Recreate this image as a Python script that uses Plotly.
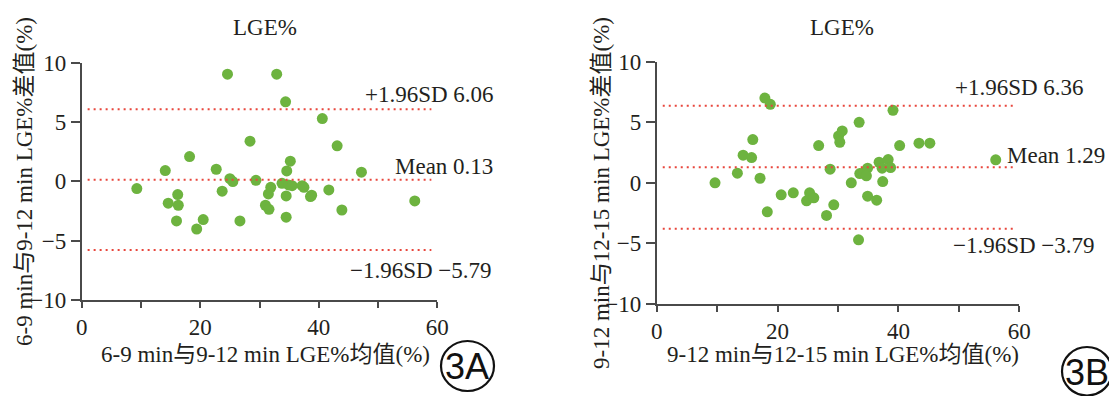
import plotly.graph_objects as go

# ---------------- data ----------------
a_mean = [9.3, 14.1, 14.6, 16.2, 16.3, 16.0, 18.2, 19.4, 20.5, 22.7, 23.7, 24.6, 25.0, 25.5,
          26.7, 28.4, 29.4, 31.0, 31.6, 31.5, 31.9, 32.9, 33.8, 34.4, 34.6, 35.2, 34.5, 34.5,
          34.9, 35.5, 37.2, 37.5, 38.6, 38.8, 40.6, 41.7, 43.1, 43.9, 47.2, 56.2]
a_diff = [-0.62, 0.9, -1.85, -1.12, -2.02, -3.34, 2.08, -4.02, -3.23, 1.01, -0.84, 9.02, 0.22, -0.03,
          -3.34, 3.37, 0.08, -2.02, -2.36, -1.07, -0.51, 9.02, -0.17, 6.69, 0.87, 1.69, -1.24, -3.03,
          -0.31, -0.37, -0.37, -0.51, -1.29, -1.18, 5.28, -0.73, 2.98, -2.42, 0.76, -1.66]
b_mean = [9.65, 13.35, 14.3, 15.7, 15.9, 17.1, 17.9, 18.8, 18.3, 20.6, 22.6, 24.8, 25.3, 26.0,
          26.8, 28.1, 28.7, 29.3, 30.1, 30.7, 30.3, 32.2, 33.5, 33.4, 33.6, 34.2, 34.9, 34.7,
          34.9, 36.4, 36.8, 37.3, 37.4, 38.3, 38.7, 39.1, 40.2, 43.4, 45.2, 56.1]
b_diff = [0.0, 0.8, 2.28, 2.09, 3.57, 0.38, 7.0, 6.48, -2.39, -0.99, -0.82, -1.48, -0.82, -1.24,
          3.08, -2.69, 1.13, -1.81, 3.87, 4.29, 3.35, 0.0, 5.0, -4.7, 0.77, 0.82, 1.21, 0.58,
          -1.1, -1.43, 1.7, 1.21, 0.11, 1.92, 1.26, 5.99, 3.08, 3.27, 3.27, 1.9]
a_lines = {"upper": 6.06, "mean": 0.13, "lower": -5.79}
b_lines = {"upper": 6.36, "mean": 1.29, "lower": -3.79}
line_x = [1, 59]
x_tickvals = [0, 10, 20, 30, 40, 50, 60]
x_ticktext = ["0", "", "20", "", "40", "", "60"]
y_tickvals = [-10, -5, 0, 5, 10]
panel_title = "LGE%"
a_xtitle = "6-9 min与9-12 min LGE%均值(%)"
a_ytitle = "6-9 min与9-12 min LGE%差值(%)"
b_xtitle = "9-12 min与12-15 min LGE%均值(%)"
b_ytitle = "9-12 min与12-15 min LGE%差值(%)"

# page body has an 8px margin: figure is drawn at (8, 8) in the window
OFF = 8
W, H = 1117 - OFF, 396 - OFF
GREEN = "#6db33f"
RED = "#e8463c"
TXT = "#231f20"
AX = "#4a4a4a"
FONT = "Liberation Serif, 'Noto Sans CJK SC', serif"
FS = 23

def px(x):
    return (x - OFF) / W

def py(y):
    return 1 - (y - OFF) / H

fig = go.Figure()

for (xs, ys, lines, xa, ya) in [(a_mean, a_diff, a_lines, "x", "y"), (b_mean, b_diff, b_lines, "x2", "y2")]:
    fig.add_trace(go.Scatter(x=xs, y=ys, mode="markers", xaxis=xa, yaxis=ya,
                             marker=dict(color=GREEN, size=11, line=dict(width=0)),
                             showlegend=False, cliponaxis=False))
    for k in ["upper", "mean", "lower"]:
        fig.add_trace(go.Scatter(x=line_x, y=[lines[k]] * 2, mode="lines", xaxis=xa, yaxis=ya,
                                 line=dict(color=RED, width=2, dash="2px,4px"), showlegend=False))

axis_common = dict(showgrid=False, zeroline=False, showline=True, linecolor=AX, linewidth=1.5,
                   ticks="outside", tickcolor=AX, tickwidth=1.5, automargin=False,
                   tickfont=dict(family=FONT, size=FS, color=TXT))

fig.update_layout(
    width=W, height=H, margin=dict(l=0, r=0, t=0, b=0, autoexpand=False),
    paper_bgcolor="white", plot_bgcolor="white",
    xaxis=dict(domain=[px(81.7), px(437.3)], range=[0, 60], anchor="y",
               tickvals=x_tickvals, ticktext=x_ticktext, ticklen=6, **axis_common),
    yaxis=dict(domain=[py(300), py(62.5)], range=[-10, 10], anchor="x",
               tickvals=y_tickvals, ticklen=9, **axis_common),
    xaxis2=dict(domain=[px(656.7), px(1019.3)], range=[0, 60], anchor="y2",
                tickvals=x_tickvals, ticktext=x_ticktext, ticklen=6, **axis_common),
    yaxis2=dict(domain=[py(304), py(61.7)], range=[-10, 10], anchor="x2",
                tickvals=y_tickvals, ticklen=9, **axis_common),
)

tf = dict(family=FONT, size=FS, color=TXT)
ann = []

def add_text(text, x, y, xanchor="center", angle=0, font=tf):
    ann.append(dict(text=text, x=px(x), y=py(y), xref="paper", yref="paper", showarrow=False,
                    xanchor=xanchor, yanchor="middle", textangle=angle, font=font, borderpad=0))

# titles
add_text(panel_title, 265, 27)
add_text(panel_title, 842, 27)
# axis titles
add_text(a_xtitle, 265, 354)
add_text(b_xtitle, 843, 354)
add_text(a_ytitle, 25, 182, angle=-90)
add_text(b_ytitle, 601, 193, angle=-90)
# line labels (pixel positions of label ends, beside the lines)
add_text("+1.96SD %.2f" % a_lines["upper"], 495, 94, xanchor="right")
add_text("Mean %.2f" % a_lines["mean"], 494, 166.7, xanchor="right")
add_text("\u22121.96SD \u2212%.2f" % abs(a_lines["lower"]), 493, 270, xanchor="right")
add_text("+1.96SD %.2f" % b_lines["upper"], 1085, 88, xanchor="right")
add_text("Mean %.2f" % b_lines["mean"], 1006, 155, xanchor="left")
add_text("\u22121.96SD \u2212%.2f" % abs(b_lines["lower"]), 1096, 245, xanchor="right")
# panel badges
sf = dict(family="Liberation Sans, Arial, sans-serif", size=36, color="#111111")
add_text("3A", 467.5, 366, font=sf)
add_text("3B", 1087, 372, font=sf)
fig.update_layout(annotations=ann)

fig.add_shape(type="circle", xref="paper", yref="paper", x0=px(441), x1=px(494), y0=py(391), y1=py(341),
              line=dict(color="#111111", width=2.2))
fig.add_shape(type="circle", xref="paper", yref="paper", x0=px(1062), x1=px(1112), y0=py(395.5), y1=py(347),
              line=dict(color="#111111", width=2.2))

fig.write_html("out.html")
